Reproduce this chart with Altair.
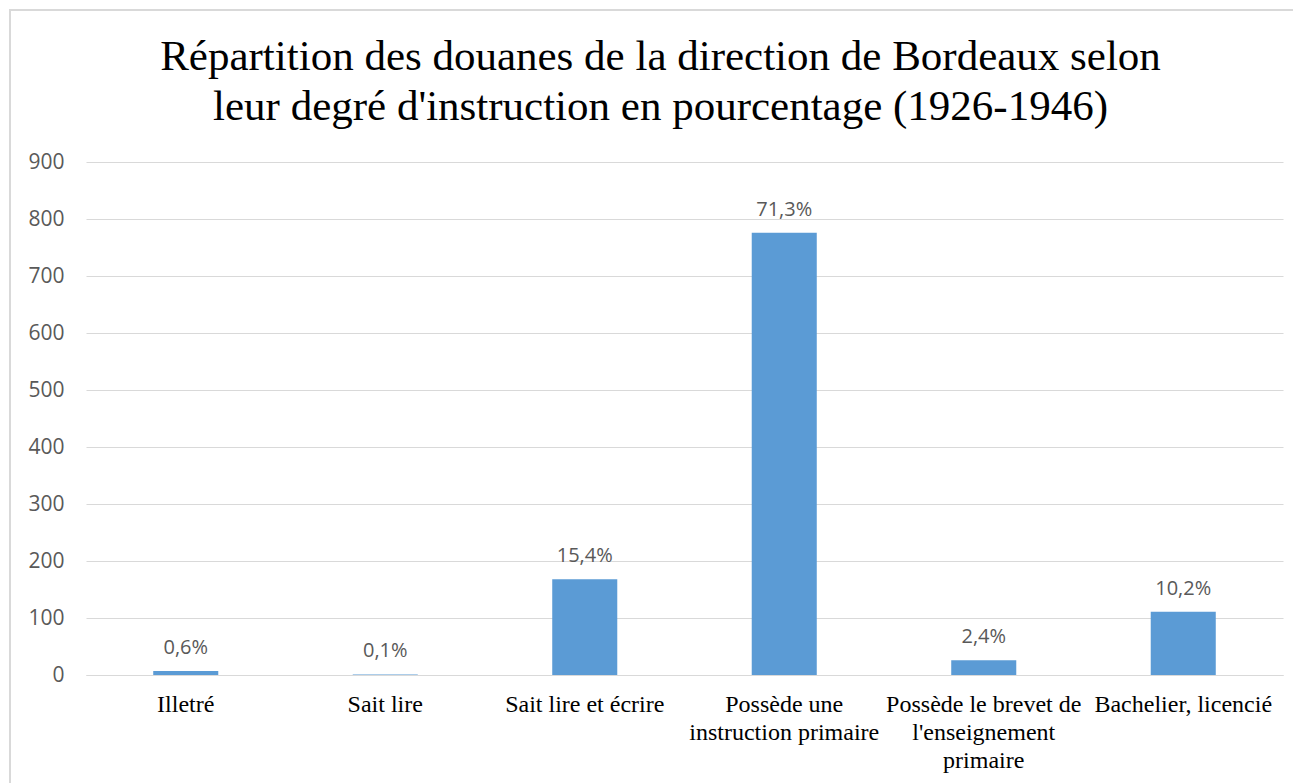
import altair as alt
import pandas as pd

categories = [
    "Illetré",
    "Sait lire",
    "Sait lire et écrire",
    "Possède une instruction primaire",
    "Possède le brevet de l'enseignement primaire",
    "Bachelier, licencié",
]
values = [7, 1, 168, 776, 26, 111]
pct_labels = ["0,6%", "0,1%", "15,4%", "71,3%", "2,4%", "10,2%"]
y_ticks = [0, 100, 200, 300, 400, 500, 600, 700, 800, 900]
title_lines = [
    "Répartition des douanes de la direction de Bordeaux selon",
    "leur degré d'instruction en pourcentage (1926-1946)",
]

df = pd.DataFrame({"cat": categories, "val": values, "lbl": pct_labels})

W, H = 1197, 513

label_expr = (
    'datum.value == "Possède une instruction primaire" ? ["Possède une", "instruction primaire"] : '
    'datum.value == "Possède le brevet de l\'enseignement primaire" ? '
    '["Possède le brevet de", "l\'enseignement", "primaire"] : datum.value'
)

xenc = alt.X(
    "cat:N",
    sort=categories,
    title=None,
    scale=alt.Scale(paddingInner=0.674, paddingOuter=0.337),
    axis=alt.Axis(
        labelAngle=0,
        labelFont="Liberation Serif",
        labelFontSize=24,
        labelColor="#000000",
        labelPadding=17,
        labelLineHeight=28,
        labelExpr=label_expr,
        labelLimit=400,
        ticks=False,
        domain=True,
        domainColor="#d9d9d9",
        domainWidth=1,
        grid=False,
    ),
)

yenc = alt.Y(
    "val:Q",
    title=None,
    scale=alt.Scale(domain=[0, 900], nice=False),
    axis=alt.Axis(
        values=y_ticks,
        labelFont="Open Sans",
        labelFontSize=21,
        labelColor="#595959",
        labelPadding=22,
        ticks=False,
        domain=False,
        grid=True,
        gridColor="#d9d9d9",
        gridWidth=1,
    ),
)

base = alt.Chart(df)

bars = base.mark_bar(color="#5b9bd5").encode(x=xenc, y=yenc)

texts = base.mark_text(
    font="Open Sans",
    fontSize=20,
    color="#595959",
    baseline="alphabetic",
    dy=-17,
).encode(x=alt.X("cat:N", sort=categories), y=alt.Y("val:Q"), text="lbl:N")

frame = alt.Chart(pd.DataFrame({"a": [0]})).mark_rect(
    fillOpacity=0, stroke="#d9d9d9", strokeWidth=2, clip=False
).encode(
    x=alt.value(-76), x2=alt.value(1300), y=alt.value(-152), y2=alt.value(800)
)

chart = (
    alt.layer(frame, bars, texts)
    .properties(
        width=W,
        height=H,
        autosize=alt.AutoSizeParams(type="none"),
        padding={"left": 78, "top": 154, "right": 10, "bottom": 110},
        title=alt.TitleParams(
            text=title_lines,
            font="Liberation Serif",
            fontSize=43,
            fontWeight="normal",
            color="#000000",
            anchor="middle",
            frame="group",
            lineHeight=50,
            offset=0,
            dy=120,
            dx=-24,
        ),
    )
    .configure_view(stroke=None)
)

chart.save("out.html", embed_options={"renderer": "svg", "actions": False})
